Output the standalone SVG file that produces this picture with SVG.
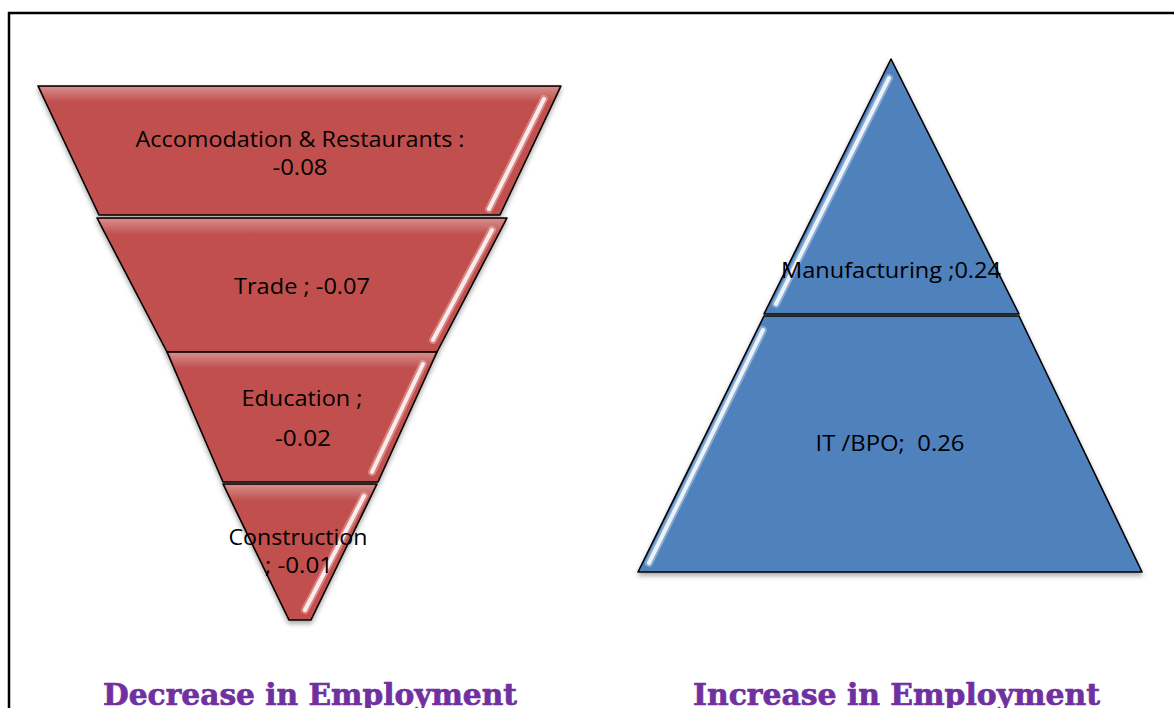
<svg xmlns="http://www.w3.org/2000/svg" width="1174" height="708" viewBox="0 0 1174 708">
<style>
.seg{stroke:#000;stroke-width:1.6;stroke-linejoin:round}
.red{fill:#C0504D}
.blue{fill:#4F81BD}
.gl{fill:none;stroke:#fff;stroke-width:4;stroke-linecap:round;opacity:0.85}
.glo{fill:none;stroke-width:8;stroke-linecap:round;opacity:0.5}
.lbl{font-family:"Open Sans","Liberation Sans",sans-serif;font-size:22px;fill:#000;text-anchor:middle}
.ttl{font-family:"DejaVu Serif","Liberation Serif",serif;font-weight:bold;font-size:30px;fill:#7030A0;stroke:#7030A0;stroke-width:0.7}
</style>
<defs>
<filter id="sh" x="-10%" y="-10%" width="120%" height="130%">
<feDropShadow dx="0" dy="3" stdDeviation="2.5" flood-color="#000" flood-opacity="0.35"/>
</filter>
<linearGradient id="topR" x1="0" y1="0" x2="0" y2="1">
<stop offset="0" stop-color="#fff" stop-opacity="0.35"/>
<stop offset="0.12" stop-color="#fff" stop-opacity="0"/>
</linearGradient>
</defs>
<rect x="9" y="13" width="1200" height="720" fill="none" stroke="#000" stroke-width="2.5"/>

<g id="funnel-accomodation">
<polygon class="seg red" points="38,86 561,86 500,215 99,215" filter="url(#sh)"/>
<polygon points="40,87 559,87 500,213 99,213" fill="url(#topR)"/>
<path class="glo" stroke="#F2B8B6" d="M544,99 L489,209"/>
<path class="gl" d="M544,99 L489,209"/>
<text class="lbl" x="300" y="147" textLength="329" lengthAdjust="spacingAndGlyphs">Accomodation &amp; Restaurants :</text>
<text class="lbl" x="300" y="175" textLength="55" lengthAdjust="spacingAndGlyphs">-0.08</text>
</g>
<g id="funnel-trade">
<polygon class="seg red" points="97,218 507,218 437,352 167,352" filter="url(#sh)"/>
<polygon points="99,219 505,219 437,350 167,350" fill="url(#topR)"/>
<path class="glo" stroke="#F2B8B6" d="M492,230 L433,340"/>
<path class="gl" d="M492,230 L433,340"/>
<text class="lbl" x="302" y="294" textLength="136" lengthAdjust="spacingAndGlyphs">Trade ; -0.07</text>
</g>
<g id="funnel-education">
<polygon class="seg red" points="167,352 437,352 378,482 223,482" filter="url(#sh)"/>
<polygon points="169,353 435,353 378,480 223,480" fill="url(#topR)"/>
<path class="glo" stroke="#F2B8B6" d="M423,364 L372,472"/>
<path class="gl" d="M423,364 L372,472"/>
<text class="lbl" x="302" y="406" textLength="121" lengthAdjust="spacingAndGlyphs">Education ;</text>
<text class="lbl" x="303" y="446" textLength="56" lengthAdjust="spacingAndGlyphs">-0.02</text>
</g>
<g id="funnel-construction">
<polygon class="seg red" points="223,484 377,484 311,620 289,620" filter="url(#sh)"/>
<polygon points="225,485 375,485 311,618 289,618" fill="url(#topR)"/>
<path class="glo" stroke="#F2B8B6" d="M364,496 L305,610"/>
<path class="gl" d="M364,496 L305,610"/>
<text class="lbl" x="298" y="545" textLength="139" lengthAdjust="spacingAndGlyphs">Construction</text>
<text class="lbl" x="299" y="573" textLength="68" lengthAdjust="spacingAndGlyphs">; -0.01</text>
</g>

<g id="pyramid-manufacturing">
<polygon class="seg blue" points="891,59 1019,314 764,314" filter="url(#sh)"/>
<path class="glo" stroke="#B9D2EE" d="M889,78 L776,304"/>
<path class="gl" d="M889,78 L776,304"/>
<text class="lbl" x="891" y="278" textLength="220" lengthAdjust="spacingAndGlyphs">Manufacturing ;0.24</text>
</g>
<g id="pyramid-itbpo">
<polygon class="seg blue" points="764,316 1019,316 1142,572 638,572" filter="url(#sh)"/>
<path class="glo" stroke="#B9D2EE" d="M763,330 L649,563"/>
<path class="gl" d="M763,330 L649,563"/>
<text class="lbl" x="890" y="451" textLength="149" lengthAdjust="spacingAndGlyphs" xml:space="preserve">IT /BPO;  0.26</text>
</g>

<text class="ttl" x="103" y="705" textLength="414" lengthAdjust="spacingAndGlyphs">Decrease in Employment</text>
<text class="ttl" x="693" y="705" textLength="407" lengthAdjust="spacingAndGlyphs">Increase in Employment</text>
</svg>
